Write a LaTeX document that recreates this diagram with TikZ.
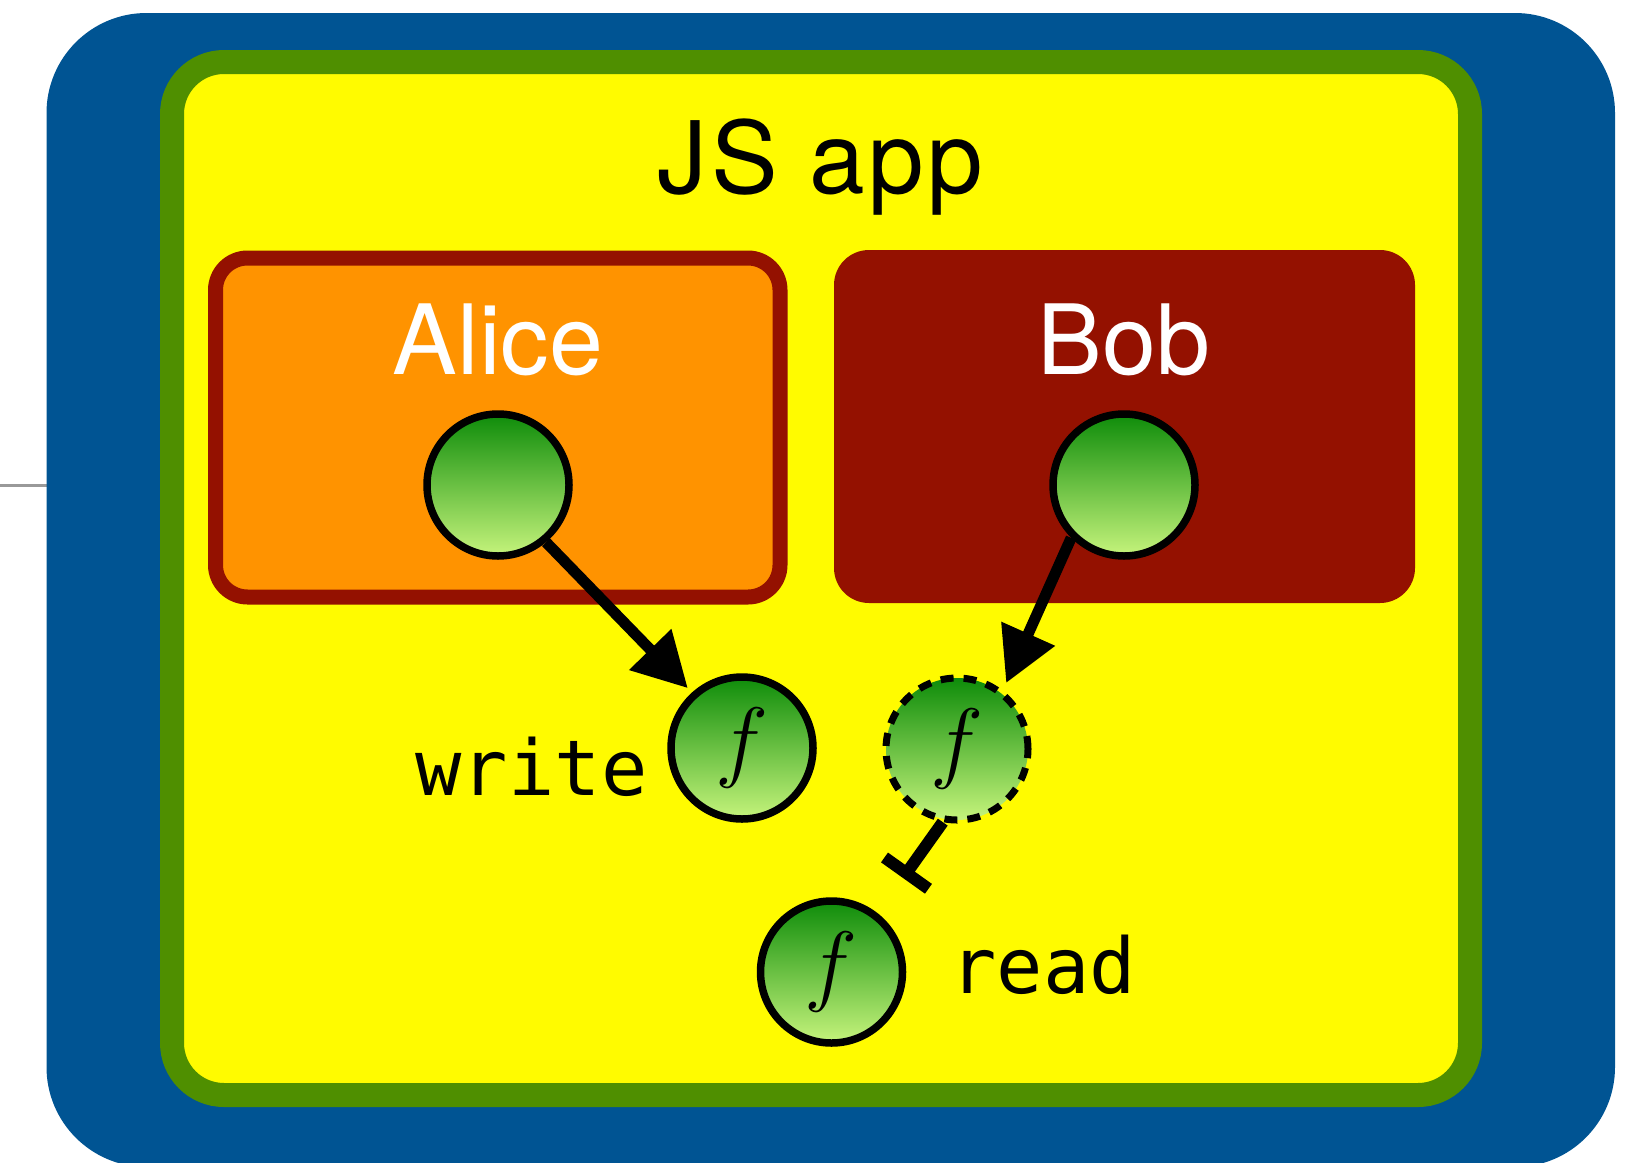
\RequirePackage{fix-cm}
\documentclass[tikz,border=0pt]{standalone}
\usepackage{fontspec}
\setmainfont{TeX Gyre Heros}
\setmonofont{DejaVu Sans Mono}
\usetikzlibrary{arrows.meta}
\definecolor{ocean}{RGB}{0,84,147}
\definecolor{fern}{RGB}{79,143,0}
\definecolor{lemon}{RGB}{255,251,0}
\definecolor{tangerine}{RGB}{255,147,0}
\definecolor{cayenne}{RGB}{148,17,0}
\definecolor{leafdark}{RGB}{14,140,10}
\definecolor{leaflight}{RGB}{198,244,124}
\begin{document}
\begin{tikzpicture}[x=1pt,y=-1pt,
  ball/.style={circle,draw=black,line width=7.5pt,minimum size=142pt,inner sep=0pt,top color=leafdark,bottom color=leaflight},
  fun/.style={ball,font=\fontsize{90}{90}\selectfont},
  who/.style={anchor=base,text=white,font=\fontsize{97}{97}\selectfont},
  code/.style={anchor=base,font=\ttfamily\fontsize{77}{77}\selectfont},
  flow/.style={line width=11pt,-{Triangle[length=54pt,width=56pt]}}]
\useasboundingbox (0,0) rectangle (1643,1162);
% frame
\coordinate (stub) at (0,485);
\coordinate (stubend) at (47,485);
\draw[black!40,line width=3pt] (stub) -- (stubend);
\fill[ocean,rounded corners=100pt] (46.5,13) rectangle (1615,1167);
\draw[fern,line width=24pt,fill=lemon,rounded corners=52pt] (172,62) rectangle (1470,1095);
\node[anchor=base,font=\addfontfeature{LetterSpace=3.6}\fontsize{100}{100}\selectfont] (app) at (820.5,193) {JS app};
% principals
\draw[cayenne,line width=15pt,fill=tangerine,rounded corners=32pt] (215.5,258) rectangle (780,597);
\fill[cayenne,rounded corners=35pt] (834,250) rectangle (1415,603);
\node[who] (alicename) at (498,374) {Alice};
\node[who] (bobname) at (1124,374) {Bob};
\node[ball] (alice) at (498,485) {};
\node[ball] (bob) at (1124,485) {};
% functions
\node[fun] (write) at (742,748) {$f$};
\node[fun,line width=7pt,dash pattern=on 13pt off 10pt] (shared) at (957,749) {$f$};
\node[fun] (read) at (831.5,972) {$f$};
\node[code] (writelbl) at (531.5,795) {write};
\node[code] (readlbl) at (1043,993) {read};
% edges
\draw[flow,shorten >=6pt] (alice.310) -- (write.132);
\draw[flow,shorten >=8pt] (bob.225) -- (shared.52);
\coordinate (halt) at (903,878);
\draw[line width=12pt,-{Bar[width=54pt]}] (shared.259) -- (halt);
\end{tikzpicture}
\end{document}
